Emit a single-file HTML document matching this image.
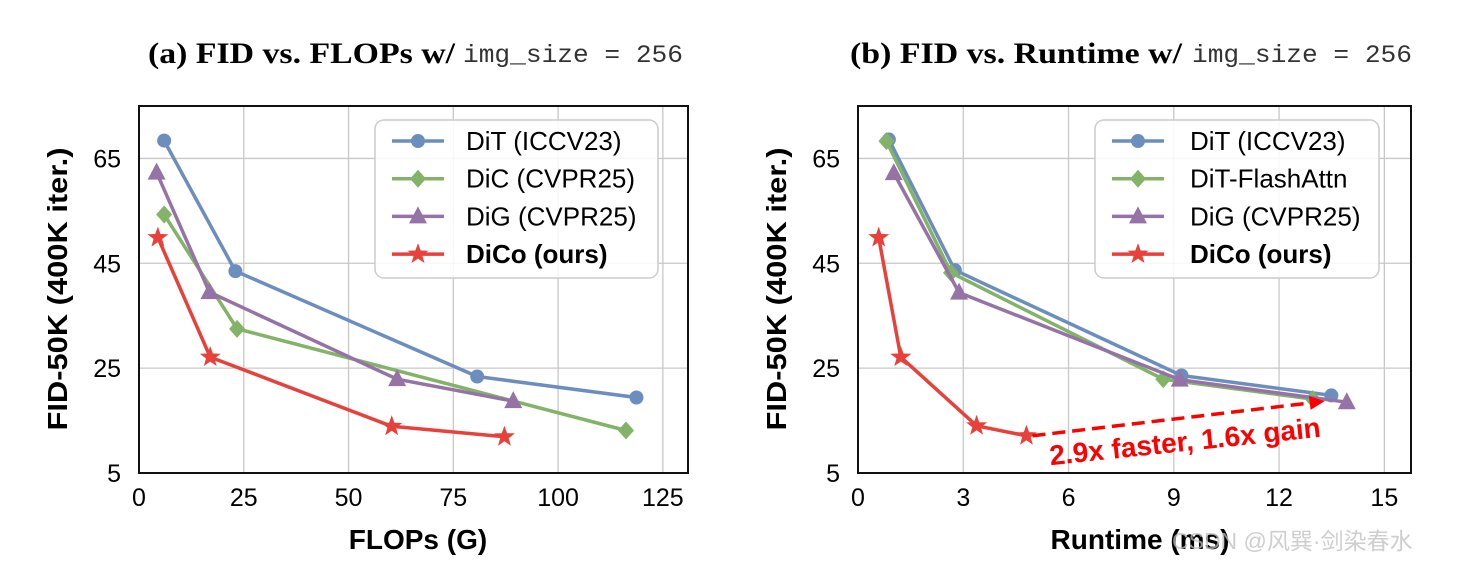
<!DOCTYPE html>
<html><head><meta charset="utf-8"><style>
html,body{margin:0;padding:0;background:#fff;width:1463px;height:567px;overflow:hidden}
svg text{font-family:"Liberation Sans",sans-serif}
</style></head><body>
<svg id="c" width="1463" height="567" xmlns="http://www.w3.org/2000/svg"></svg>
<script>
const leftXTicks=[0,25,50,75,100,125];
const rightXTicks=[0,3,6,9,12,15];
const yTicks=[5,25,45,65];
const leftDiTX=[6.0,23.0,80.7,118.7];
const leftDiTY=[68.4,43.5,23.4,19.4];
const leftDiCX=[6.0,23.4,116.2];
const leftDiCY=[54.3,32.5,13.1];
const leftDiGX=[4.2,16.8,61.6,89.3];
const leftDiGY=[62.3,39.5,22.9,18.7];
const leftDiCoX=[4.5,17.0,60.3,87.2];
const leftDiCoY=[49.9,27.1,13.9,11.9];
const rightDiTX=[0.88,2.76,9.22,13.49];
const rightDiTY=[68.6,43.7,23.6,19.8];
const rightFlashX=[0.81,2.65,8.7,12.96];
const rightFlashY=[68.3,43.2,22.9,19.1];
const rightDiGX=[1.02,2.88,9.17,13.93];
const rightDiGY=[62.2,39.4,22.8,18.5];
const rightDiCoX=[0.59,1.22,3.38,4.8];
const rightDiCoY=[49.9,27.1,14.0,12.1];
const NS="http://www.w3.org/2000/svg";
const svg=document.getElementById('c');
function mk(tag,attrs,parent){const e=document.createElementNS(NS,tag);for(const k in attrs)e.setAttribute(k,attrs[k]);(parent||svg).appendChild(e);return e;}
function marker(g,type,x,y,col){
  let e;
  if(type==='o')e=mk('circle',{cx:x,cy:y,r:7,fill:col},g);
  else if(type==='d')e=mk('polygon',{points:`${x},${y-9} ${x+8},${y} ${x},${y+9} ${x-8},${y}`,fill:col},g);
  else if(type==='^')e=mk('polygon',{points:`${x},${y-10} ${x+9},${y+7} ${x-9},${y+7}`,fill:col},g);
  else{let p=[];for(let i=0;i<10;i++){const r=i%2?4.5:11;const a=-Math.PI/2+i*Math.PI/5;p.push((x+r*Math.cos(a)).toFixed(1)+','+(y+r*Math.sin(a)).toFixed(1));}
    e=mk('polygon',{points:p.join(' '),fill:col},g);}
  
  
}
function panel(cfg){
  const {x0,x1,xmin,xmax,xTicks,series,legendX,legendW,lineX0,textX,name}=cfg;
  const y0=106,y1=473,ymin=5,ymax=75;
  const sx=v=>x0+(v-xmin)/(xmax-xmin)*(x1-x0);
  const sy=v=>y1-(v-ymin)/(ymax-ymin)*(y1-y0);
  const g=mk('g',{});
  
  
  xTicks.forEach(t=>{const X=sx(t);
    const l=mk('line',{x1:X,x2:X,y1:y0,y2:y1,stroke:'#c8c8c8','stroke-width':1.3},g);
    
    const tx=mk('text',{x:X,y:506,'font-size':25,'text-anchor':'middle',fill:'#000'},g);tx.textContent=t;
    });
  yTicks.forEach(t=>{const Y=sy(t);
    const l=mk('line',{x1:x0,x2:x1,y1:Y,y2:Y,stroke:'#c8c8c8','stroke-width':1.3},g);
    
    const tx=mk('text',{x:x0-18,y:Y+9,'font-size':25,'text-anchor':'end',fill:'#000'},g);tx.textContent=t;
    });
  series.forEach(s=>{
    const pts=s.x.map((v,i)=>sx(v).toFixed(1)+','+sy(s.y[i]).toFixed(1)).join(' ');
    const pl=mk('polyline',{points:pts,fill:'none',stroke:s.col,'stroke-width':3.5,'stroke-linejoin':'round'},g);
    
    s.x.forEach((v,i)=>marker(g,s.m,sx(v),sy(s.y[i]),s.col));
  });
  const fr=mk('rect',{x:x0,y:y0,width:x1-x0,height:y1-y0,fill:'none',stroke:'#111','stroke-width':2},g);
  
  const lg=mk('g',{},g);
  
  mk('rect',{x:legendX,y:120,width:legendW,height:158,rx:9,fill:'rgba(255,255,255,0.85)',stroke:'#cccccc','stroke-width':1.5},lg);
  series.forEach((s,i)=>{const Y=141+i*37.7;
    mk('line',{x1:lineX0,x2:lineX0+52,y1:Y,y2:Y,stroke:s.col,'stroke-width':3.5},lg);
    marker(lg,s.m,lineX0+26,Y,s.col);
    const t=mk('text',{x:textX,y:Y+9,'font-size':26,fill:'#000','font-weight':s.bold?'bold':'normal'},lg);t.textContent=s.label;
    });
  return {sx,sy,g};
}
const BL='#6c8ebf',GR='#82b366',PU='#9673a6',RD='#e8403a';
panel({name:'left-chart',x0:139,x1:688,xmin:0,xmax:131,xTicks:leftXTicks,legendX:375,legendW:283,lineX0:392,textX:466,
  series:[{x:leftDiTX,y:leftDiTY,col:BL,m:'o',label:'DiT (ICCV23)'},{x:leftDiCX,y:leftDiCY,col:GR,m:'d',label:'DiC (CVPR25)'},
  {x:leftDiGX,y:leftDiGY,col:PU,m:'^',label:'DiG (CVPR25)'},{x:leftDiCoX,y:leftDiCoY,col:RD,m:'*',label:'DiCo (ours)',bold:true}]});
const R=panel({name:'right-chart',x0:858,x1:1411,xmin:0,xmax:15.76,xTicks:rightXTicks,legendX:1095,legendW:284,lineX0:1112,textX:1190,
  series:[{x:rightDiTX,y:rightDiTY,col:BL,m:'o',label:'DiT (ICCV23)'},{x:rightFlashX,y:rightFlashY,col:GR,m:'d',label:'DiT-FlashAttn'},
  {x:rightDiGX,y:rightDiGY,col:PU,m:'^',label:'DiG (CVPR25)'},{x:rightDiCoX,y:rightDiCoY,col:RD,m:'*',label:'DiCo (ours)',bold:true}]});
const ax1=R.sx(rightDiCoX[3])+6,ay1=R.sy(rightDiCoY[3]),ax2=R.sx(13.3),ay2=R.sy(18.7);
const arr=mk('g',{});

mk('line',{x1:ax1,y1:ay1,x2:ax2-8,y2:ay2+1,stroke:'#f00','stroke-width':3.5,'stroke-dasharray':'13,7'},arr);
const ang=Math.atan2(ay2-ay1,ax2-ax1);
mk('polygon',{points:`${ax2},${ay2} ${ax2-15*Math.cos(ang)+7*Math.sin(ang)},${ay2-15*Math.sin(ang)-7*Math.cos(ang)} ${ax2-15*Math.cos(ang)-7*Math.sin(ang)},${ay2-15*Math.sin(ang)+7*Math.cos(ang)}`,fill:'#f00'},arr);
const at=mk('text',{x:1186,y:451,'font-size':28,'font-weight':'bold',fill:'#f00','text-anchor':'middle',transform:'rotate(-6 1186 451)'},arr);
at.textContent='2.9x faster, 1.6x gain';
function txt(x,y,s,attrs,name){const t=mk('text',Object.assign({x:x,y:y},attrs));t.textContent=s;return t;}
function title(x,a,w1,x2,name){const g=mk('g',{});
  const s1=mk('text',{x:x,y:63,style:'font-family:"Liberation Serif",serif','font-weight':'bold','font-size':30,textLength:w1,lengthAdjust:'spacingAndGlyphs',fill:'#000'},g);s1.textContent=a;
  const s2=mk('text',{x:x2,y:62,style:'font-family:"Liberation Mono",monospace','font-size':25,textLength:220,lengthAdjust:'spacingAndGlyphs',fill:'#333'},g);s2.textContent='img_size = 256';}
title(148,'(a) FID vs. FLOPs w/',307,463,'left-title');
title(850,'(b) FID vs. Runtime w/',332,1192,'right-title');
txt(418,549,'FLOPs (G)',{'font-size':28,'font-weight':'bold','text-anchor':'middle'},'x-axis-title-left');
txt(1140,549,'Runtime (ms)',{'font-size':28,'font-weight':'bold','text-anchor':'middle'},'x-axis-title-right');
txt(0,0,'FID-50K (400K iter.)',{'font-size':28,'font-weight':'bold','text-anchor':'middle',textLength:283,lengthAdjust:'spacingAndGlyphs',transform:'translate(67 289) rotate(-90)'},'y-axis-title-left');
txt(0,0,'FID-50K (400K iter.)',{'font-size':28,'font-weight':'bold','text-anchor':'middle',textLength:283,lengthAdjust:'spacingAndGlyphs',transform:'translate(786 289) rotate(-90)'},'y-axis-title-right');
txt(1172,549,'CSDN @风巽·剑染春水',{'font-size':23,fill:'rgba(190,190,190,0.75)',style:'font-family:"Liberation Sans","Noto Sans CJK SC",sans-serif'},'watermark');
</script>
</body></html>
